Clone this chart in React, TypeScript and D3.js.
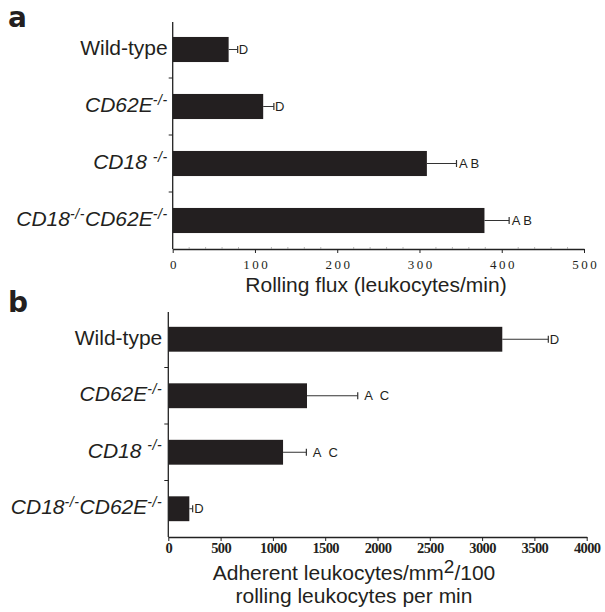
import { useEffect, useRef } from 'react'
import * as d3 from 'd3'

// category labels, split into pieces so the "-/-" can be raised
type LabelPart = { t: string; italic?: boolean; sup?: boolean }
const categoryLabels: LabelPart[][] = [
  [{ t: 'Wild-type' }],
  [{ t: 'CD62E', italic: true }, { t: '-/-', italic: true, sup: true }],
  [{ t: 'CD18 ', italic: true }, { t: '-/-', italic: true, sup: true }],
  [
    { t: 'CD18', italic: true },
    { t: '-/-', italic: true, sup: true },
    { t: 'CD62E', italic: true },
    { t: '-/-', italic: true, sup: true },
  ],
]

// panel a: rolling flux
const fluxTicks = [0, 100, 200, 300, 400, 500]
const fluxMean = [68, 110, 309, 379]
const fluxSem = [11, 13, 36, 30]
const fluxSig = ['D', 'D', 'A B', 'A B']

// panel b: adhesion
const adhTicks = [0, 500, 1000, 1500, 2000, 2500, 3000, 3500, 4000]
const adhMean = [3193, 1326, 1097, 201]
const adhSem = [440, 485, 223, 32]
const adhSig = ['D', 'A C', 'A C', 'D']

const INK = '#231f20'
const SANS = "'Liberation Sans', Arial, Helvetica, sans-serif"
const SERIF = "'Liberation Serif', 'Times New Roman', serif"

interface PanelConfig {
  letter: string
  letterY: number
  means: number[]
  sems: number[]
  sig: string[]
  ticks: number[]
  xRange: [number, number]
  yRange: [number, number]
  labelGap: number
  sigGap: (s: string) => number
  tickStyle: 'spaced' | 'bold'
  titleX: number
  titleLines: LabelPart[][]
  titleY: number[]
}

function drawPanel(svg: d3.Selection<SVGSVGElement, unknown, null, undefined>, cfg: PanelConfig) {
  const g = svg.append('g')
  const n = cfg.means.length

  const x = d3.scaleLinear()
    .domain([0, cfg.ticks[cfg.ticks.length - 1]])
    .range(cfg.xRange)

  const y = d3.scaleBand<number>()
    .domain(d3.range(n))
    .range(cfg.yRange)
    .paddingInner(0.56)
    .paddingOuter(0.28)

  const step = y.step()
  const cy = (i: number) => (y(i) ?? 0) + y.bandwidth() / 2

  // bars
  g.selectAll('.bar')
    .data(cfg.means)
    .enter().append('rect')
    .attr('x', x(0))
    .attr('y', (d, i) => y(i)!)
    .attr('width', d => x(d) - x(0))
    .attr('height', y.bandwidth())
    .attr('fill', INK)

  // error bars
  cfg.means.forEach((m, i) => {
    const hi = x(m + cfg.sems[i])
    g.append('line')
      .attr('x1', x(m)).attr('x2', hi)
      .attr('y1', cy(i)).attr('y2', cy(i))
      .attr('stroke', '#333').attr('stroke-width', 1)
    g.append('line')
      .attr('x1', hi).attr('x2', hi)
      .attr('y1', cy(i) - 3.5).attr('y2', cy(i) + 3.5)
      .attr('stroke', '#333').attr('stroke-width', 1.2)
    g.append('text')
      .attr('x', hi + cfg.sigGap(cfg.sig[i]))
      .attr('y', cy(i) + 4.5)
      .attr('font-family', SANS)
      .attr('font-size', 13)
      .attr('word-spacing', cfg.sig[i].length > 1 && cfg.letter === 'b' ? 4 : 0)
      .attr('fill', INK)
      .text(cfg.sig[i])
  })

  // y axis line + ticks at category boundaries
  g.append('line')
    .attr('x1', x(0)).attr('x2', x(0))
    .attr('y1', cfg.yRange[0] + 1).attr('y2', cfg.yRange[1])
    .attr('stroke', '#222').attr('stroke-width', 1.3)
  d3.range(1, n).forEach(i => {
    const yy = cfg.yRange[0] + step * i
    g.append('line')
      .attr('x1', x(0) - 4).attr('x2', x(0))
      .attr('y1', yy).attr('y2', yy)
      .attr('stroke', '#222').attr('stroke-width', 1)
  })

  // category labels
  categoryLabels.forEach((parts, i) => {
    const t = g.append('text')
      .attr('x', x(0) - cfg.labelGap)
      .attr('y', cy(i) + 5.5)
      .attr('text-anchor', 'end')
      .attr('font-family', SANS)
      .attr('font-size', 21)
      .attr('fill', INK)
    let raised = false
    parts.forEach(p => {
      const ts = t.append('tspan').text(p.t)
      if (p.italic) ts.attr('font-style', 'italic')
      if (p.sup) {
        ts.attr('font-size', 14).attr('letter-spacing', 0.6).attr('dy', -7.5)
        raised = true
      } else if (raised) {
        ts.attr('dy', 7.5)
        raised = false
      }
    })
  })

  // x axis
  const axis = g.append('g')
    .attr('transform', `translate(0,${cfg.yRange[1]})`)
    .call(d3.axisBottom(x).tickValues(cfg.ticks).tickSize(4).tickSizeOuter(0)
      .tickPadding(cfg.tickStyle === 'spaced' ? 6.5 : 1.5)
      .tickFormat(d => String(d)))
  axis.select('.domain').attr('stroke', '#222').attr('stroke-width', 1.3)
  axis.selectAll('.tick line').attr('stroke', '#222').attr('stroke-width', 1)
  const tickText = axis.selectAll('.tick text')
    .attr('font-family', SERIF)
    .attr('fill', INK)
  if (cfg.tickStyle === 'spaced') {
    tickText.attr('font-size', 13).attr('letter-spacing', 2.5).attr('dx', 1.2)
    // faint minor ticks
    d3.range(0, cfg.ticks[cfg.ticks.length - 1], 20).forEach(v => {
      if (v % 100 === 0) return
      axis.append('line')
        .attr('x1', x(v)).attr('x2', x(v))
        .attr('y1', -2).attr('y2', 0)
        .attr('stroke', '#888').attr('stroke-width', 0.6)
    })
  } else {
    tickText.attr('font-size', 14.5).attr('font-weight', 'bold').attr('letter-spacing', -0.6)
  }

  // axis title
  cfg.titleLines.forEach((parts, li) => {
    const t = g.append('text')
      .attr('x', cfg.titleX)
      .attr('y', cfg.titleY[li])
      .attr('text-anchor', 'middle')
      .attr('font-family', SANS)
      .attr('font-size', 21)
      .attr('fill', INK)
    let raised = false
    parts.forEach(p => {
      const ts = t.append('tspan').text(p.t)
      if (p.sup) {
        ts.attr('font-size', 19).attr('dy', -7)
        raised = true
      } else if (raised) {
        ts.attr('dy', 7)
        raised = false
      }
    })
  })

  // panel letter
  svg.append('text')
    .attr('x', 8)
    .attr('y', cfg.letterY)
    .attr('font-family', "'DejaVu Sans', sans-serif")
    .attr('font-weight', 'bold')
    .attr('font-size', 28)
    .attr('fill', INK)
    .text(cfg.letter)
}

export default function App() {
  const svgRef = useRef<SVGSVGElement>(null)

  useEffect(() => {
    if (!svgRef.current) return
    const svg = d3.select(svgRef.current)
    svg.selectAll('*').remove()

    drawPanel(svg, {
      letter: 'a',
      letterY: 27,
      means: fluxMean,
      sems: fluxSem,
      sig: fluxSig,
      ticks: fluxTicks,
      xRange: [172.7, 584],
      yRange: [21, 249],
      labelGap: 5,
      sigGap: s => (s.length > 1 ? 2.5 : 1),
      tickStyle: 'spaced',
      titleX: 376,
      titleLines: [[{ t: 'Rolling flux (leukocytes/min)' }]],
      titleY: [292],
    })

    drawPanel(svg, {
      letter: 'b',
      letterY: 312,
      means: adhMean,
      sems: adhSem,
      sig: adhSig,
      ticks: adhTicks,
      xRange: [168.3, 586.7],
      yRange: [311, 537],
      labelGap: 6,
      sigGap: s => (s.length > 1 ? 6.5 : 1.5),
      tickStyle: 'bold',
      titleX: 354,
      titleLines: [
        [{ t: 'Adherent leukocytes/mm' }, { t: '2', sup: true }, { t: '/100' }],
        [{ t: 'rolling leukocytes per min' }],
      ],
      titleY: [580, 603],
    })
  }, [])

  return (
    <svg
      ref={svgRef}
      width={605}
      height={612}
      style={{ position: 'absolute', left: 0, top: 0, background: '#fff' }}
    />
  )
}
